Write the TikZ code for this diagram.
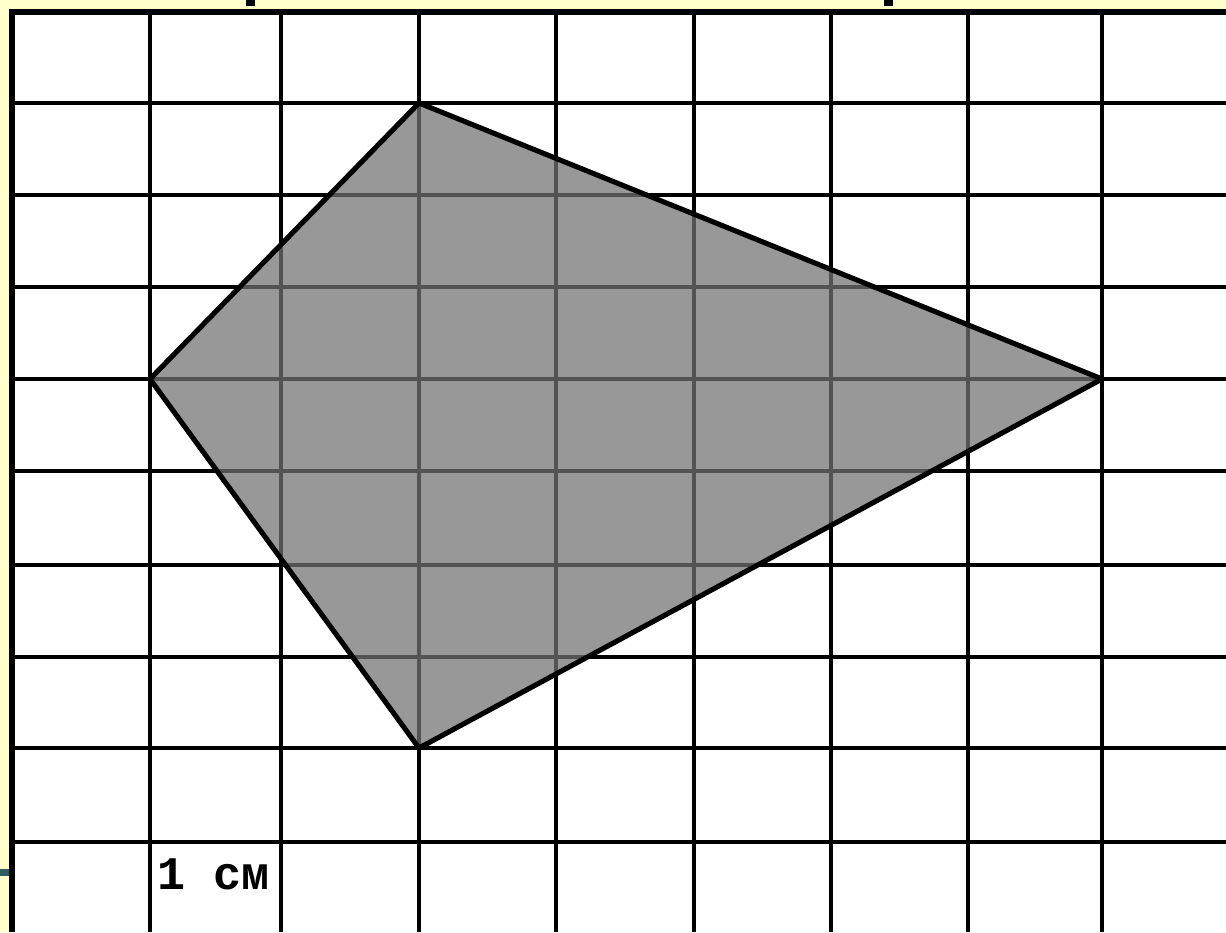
\documentclass[tikz,border=0pt]{standalone}
\usepackage{fontspec}
\newfontfamily\monob{Liberation Mono}
\definecolor{bgyellow}{RGB}{255,255,204}
\definecolor{tealmark}{RGB}{47,95,95}
\definecolor{kitefill}{RGB}{115,115,115}
\begin{document}
\begin{tikzpicture}[x=0.01cm,y=-0.01cm,
  gridline/.style={line width=1.3pt,black},
  outerline/.style={line width=1.6pt,black},
  kite/.style={fill=kitefill,fill opacity=0.73,draw=none},
  kiteedge/.style={line width=1.45pt,black,line join=round},
  lbl/.style={font=\monob\bfseries\fontsize{13.3pt}{14pt}\selectfont,inner sep=0pt,anchor=base west}]
\useasboundingbox (0,0) rectangle (1226,932);
\fill[bgyellow] (0,0) rectangle (1226,932);
\fill[white] (12,12) rectangle (1226,932);
% small marks of cut-off text
\fill[black] (246,0) rectangle (255,6);
\fill[black] (884,0) rectangle (893,6);
\fill[tealmark] (0,869) rectangle (9,876);
% grid
\foreach \gx in {150,281,419,556,694,831,968,1102}
  \draw[gridline] (\gx,12) -- (\gx,932);
\foreach \gy in {103,195,287,379,471,565,657,748,842}
  \draw[gridline] (12,\gy) -- (1226,\gy);
\draw[outerline] (12,932) -- (12,12) -- (1226,12);
% kite
\coordinate (T) at (419,103);
\coordinate (L) at (150,379);
\coordinate (R) at (1102,379);
\coordinate (B) at (419,748);
\fill[kite] (T) -- (R) -- (B) -- (L) -- cycle;
\draw[kiteedge] (T) -- (R) -- (B) -- (L) -- cycle;
\node[lbl] (scale) at (157,889) {1 см};
\end{tikzpicture}
\end{document}
